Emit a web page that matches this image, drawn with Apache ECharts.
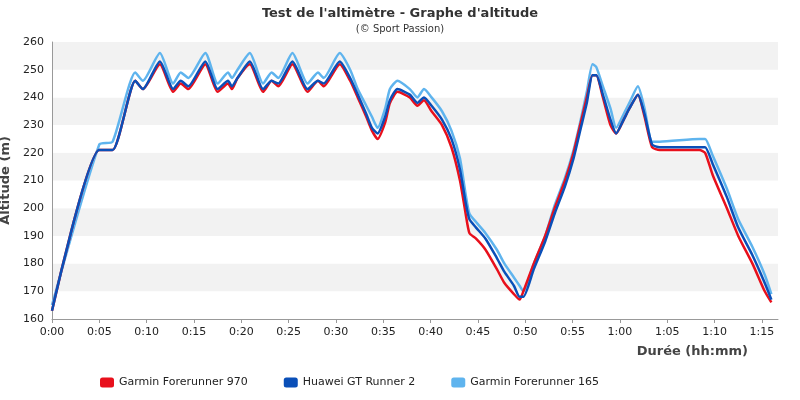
<!DOCTYPE html>
<html>
<head>
<meta charset="utf-8">
<script src="https://cdn.jsdelivr.net/npm/echarts@6/dist/echarts.min.js"></script>
<style>html,body{margin:0;padding:0;background:#fff}#chart{width:800px;height:400px}</style>
</head>
<body>
<div id="chart"></div>
<script>
// time in minutes
const times = [0,5,6.4,8.8,9.6,11.4,12.8,13.6,14.4,16.2,17.5,18.6,19,19.6,20.9,22.3,23.2,23.9,25.4,27,28.1,28.7,30.4,31.5,32.3,33.2,33.8,34.4,35.2,35.7,36.5,37.8,38.6,39.3,40.1,41.2,42.2,43.1,43.7,44.1,44.8,45.8,47,47.8,48.8,49.4,49.8,50.9,52.1,53.1,54.2,55.1,55.8,56.5,57.1,57.5,58.2,59,59.6,60.4,61,61.9,62.6,63.4,64.2,68.4,69,69.8,71.3,72.5,74,75.3,76];
const garmin970 = [163,221,221,246,243,252,242,245,243,252,242,245,243,247,252,242,246,244,252,242,246,244,252,246,240,233,228,225,231,238,242,240,237,239,235,230,222,210,198,191,189,185,178,173,169,167,170,180,190,200,210,220,230,240,248,248,240,230,227,232,236,241,233,222,221,221,220,212,200,190,180,170,166];
const huaweiGT2 = [163,221,221,246,243,253,243,246,244,253,243,246,244,247,253,243,246,245,253,243,246,245,253,247,241,234,229,227,233,239,243,241,238,240,237,232,225,214,202,196,193,189,182,177,172,168,168,178,188,198,208,218,228,238,248,248,241,232,227,232,236,241,234,223,222,222,222,216,204,193,183,173,167];
const garmin165 = [165,223,224,249,246,256,245,249,247,256,245,249,247,250,256,245,249,247,256,245,249,247,256,250,243,237,233,229,236,243,246,243,240,243,240,235,228,218,205,198,195,191,185,180,175,172,170,180,190,201,211,221,231,242,252,251,244,236,229,234,238,244,236,224,224,225,225,219,207,196,186,176,169];
const names = ['Garmin Forerunner 970', 'Huawei GT Runner 2', 'Garmin Forerunner 165'];
const colors = ['#e8101c', '#0a4fb8', '#5fb4ee'];

const pairs = arr => times.map((t, i) => [t, arr[i]]);
const fmt = v => Math.floor(v / 60) + ':' + String(v % 60).padStart(2, '0');

const chart = echarts.init(document.getElementById('chart'));
chart.setOption({
  backgroundColor: '#fff',
  title: {
    text: "Test de l'altimètre - Graphe d'altitude",
    subtext: '(© Sport Passion)',
    left: 'center', top: 2, itemGap: 4,
    textStyle: { fontFamily: 'DejaVu Sans', fontSize: 13, fontWeight: 'bold', color: '#333' },
    subtextStyle: { fontFamily: 'DejaVu Sans', fontSize: 10, color: '#333' }
  },
  legend: {
    data: names, left: 95, top: 372, icon: 'roundRect', itemWidth: 14, itemHeight: 10, itemGap: 36,
    textStyle: { fontFamily: 'DejaVu Sans', fontSize: 11, color: '#222' }
  },
  grid: { left: 52, right: 22, top: 42, bottom: 81, containLabel: false, outerBoundsMode: 'none' },
  xAxis: {
    type: 'value', min: 0, max: 76.7, interval: 5,
    name: 'Durée (hh:mm)', nameLocation: 'end', nameGap: 0,
    nameTextStyle: { fontFamily: 'DejaVu Sans', fontSize: 13, fontWeight: 'bold', color: '#444', align: 'right', verticalAlign: 'top', padding: [26, 30, 0, 0] },
    axisLine: { lineStyle: { color: '#999' } },
    axisTick: { show: true, length: 4, lineStyle: { color: '#999' } },
    axisLabel: { formatter: v => fmt(v), fontFamily: 'DejaVu Sans', fontSize: 11, color: '#222', showMaxLabel: false },
    splitLine: { show: false }
  },
  yAxis: {
    type: 'value', min: 160, max: 260, interval: 10,
    name: 'Altitude (m)', nameLocation: 'middle', nameGap: 33,
    nameTextStyle: { fontFamily: 'DejaVu Sans', fontSize: 13, fontWeight: 'bold', color: '#444' },
    axisLine: { show: true, lineStyle: { color: '#999' } },
    axisTick: { show: false },
    axisLabel: { fontFamily: 'DejaVu Sans', fontSize: 11, color: '#222' },
    splitLine: { show: false },
    splitArea: { show: true, areaStyle: { color: ['#fff', '#f2f2f2'] } }
  },
  series: [
    { name: names[2], type: 'line', data: pairs(garmin165), color: colors[2], z: 1 },
    { name: names[0], type: 'line', data: pairs(garmin970), color: colors[0], z: 2 },
    { name: names[1], type: 'line', data: pairs(huaweiGT2), color: colors[1], z: 3 }
  ].map(s => Object.assign(s, { showSymbol: false, smooth: 0.2, lineStyle: { width: 2.5 } }))
});
</script>
</body>
</html>
